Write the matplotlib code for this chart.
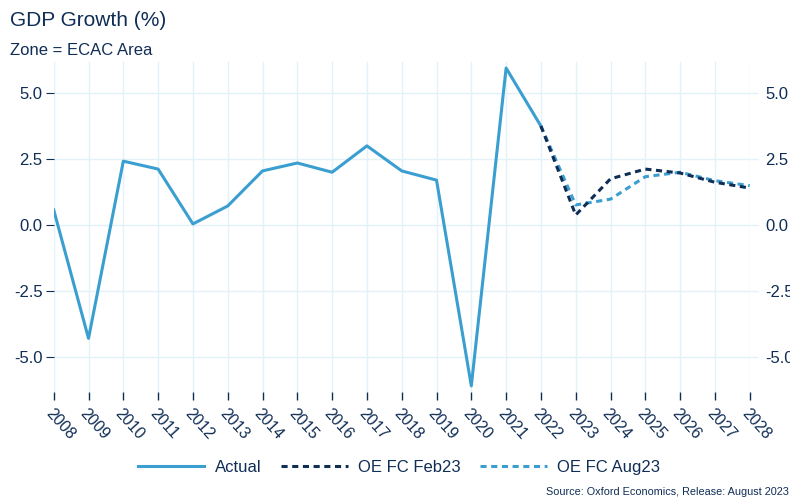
import matplotlib
matplotlib.use("Agg")
import matplotlib.pyplot as plt

plt.rcParams['font.family'] = ['Liberation Sans', 'DejaVu Sans']
plt.rcParams['axes.unicode_minus'] = False

years = list(range(2008, 2029))
actual_years = list(range(2008, 2023))
actual = [0.57, -4.3, 2.42, 2.12, 0.04, 0.72, 2.05, 2.35, 2.0, 3.0, 2.05, 1.7, -6.1, 5.95, 3.75]
fc_years = list(range(2022, 2029))
fc_feb23 = [3.75, 0.38, 1.75, 2.12, 1.97, 1.62, 1.4]
fc_aug23 = [3.75, 0.76, 0.98, 1.83, 2.0, 1.68, 1.49]
yticks = [-5.0, -2.5, 0.0, 2.5, 5.0]

navy = "#0f2d55"
light = "#3a9fd0"
grid = "#e3f2f9"

fig = plt.figure(figsize=(7.9, 4.98), dpi=100)
ax = fig.add_axes([0.068, 0.213, 0.881, 0.662])

ax.plot(actual_years, actual, color=light, lw=2.2, label="Actual", zorder=3)
ax.plot(fc_years, fc_feb23, color=navy, lw=2.2, ls=(0, (2, 1.5)), label="OE FC Feb23", zorder=4)
ax.plot(fc_years, fc_aug23, color=light, lw=2.2, ls=(0, (2, 1.5)), label="OE FC Aug23", zorder=3)

ax.set_xlim(2008, 2028)
ax.set_ylim(-6.33, 6.17)
ax.set_xticks(years)
ax.set_xticklabels([str(y) for y in years], rotation=-48, ha="left", va="top",
                   rotation_mode="anchor", fontsize=11.5, color=navy)
ax.set_yticks(yticks)
ax.set_yticklabels([f"{v:.1f}" for v in yticks], fontsize=12, color=navy)
ax.tick_params(axis="y", length=6, width=0.8, color=navy, pad=2)
ax.tick_params(axis="x", length=6, width=1.0, color=navy, pad=4)
for s in ax.spines.values():
    s.set_visible(False)
ax.grid(True, color=grid, lw=1.0)
ax.set_axisbelow(True)

ax2 = ax.twinx()
ax2.set_ylim(ax.get_ylim())
ax2.set_yticks(yticks)
ax2.set_yticklabels([f"{v:.1f}" for v in yticks], fontsize=12, color=navy)
ax2.tick_params(axis="y", length=6, width=1.0, color=grid, pad=5)
for s in ax2.spines.values():
    s.set_visible(False)

fig.text(0.013, 0.958, "GDP Growth (%)", fontsize=15, color=navy, va="center", ha="left")
fig.text(0.013, 0.898, "Zone = ECAC Area", fontsize=12, color=navy, va="center", ha="left")

fig.legend(loc="center", bbox_to_anchor=(0.505, 0.062), ncol=3, frameon=False,
           fontsize=12, labelcolor=navy, handlelength=4.0, columnspacing=1.2, handletextpad=0.6)
fig.text(0.998, 0.003, "Source: Oxford Economics, Release: August 2023", fontsize=7.8,
         color=navy, ha="right", va="bottom")

fig.savefig("out.png", dpi=100)
